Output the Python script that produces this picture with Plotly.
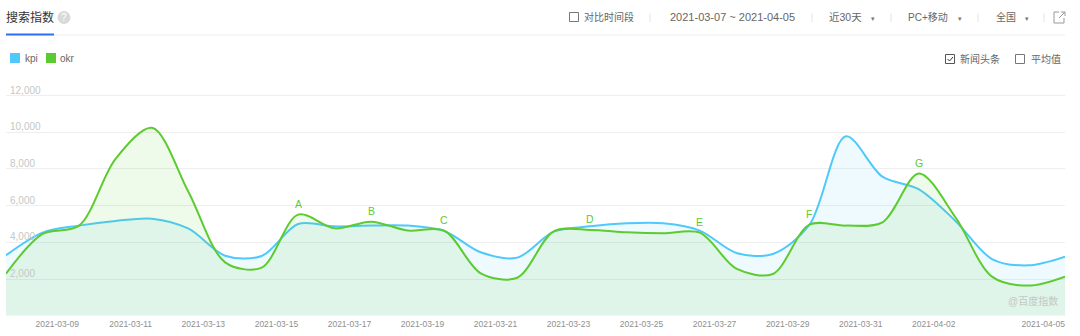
import plotly.graph_objects as go
import pandas as pd

dates = [d.strftime("%Y-%m-%d") for d in pd.date_range("2021-03-07", "2021-04-05")]
kpi = [3290, 4530, 4910, 5165, 5290, 4745, 3270, 3255, 5000, 4870,
       4910, 4910, 4620, 3455, 3165, 4580, 4870, 5035, 5035, 4640,
       3420, 3365, 4945, 9780, 7580, 6890, 5165, 3090, 2745, 3220]
okr = [2290, 4455, 4910, 8550, 10240, 6730, 2910, 2620, 5510, 4760,
       5125, 4640, 4640, 2310, 2070, 4600, 4675, 4545, 4490, 4525,
       2565, 2275, 4965, 4910, 5090, 7750, 5365, 2130, 1640, 2130]
y_ticks = [2000, 4000, 6000, 8000, 10000, 12000]
x_ticks = ["2021-03-09", "2021-03-11", "2021-03-13", "2021-03-15", "2021-03-17",
           "2021-03-19", "2021-03-21", "2021-03-23", "2021-03-25", "2021-03-27",
           "2021-03-29", "2021-03-31", "2021-04-02", "2021-04-05"]
news_labels = ["A", "B", "C", "D", "E", "F", "G"]
news_dates = ["2021-03-15", "2021-03-17", "2021-03-19", "2021-03-23", "2021-03-26", "2021-03-29", "2021-04-01"]

W, H = 1080, 336
BLUE, GREEN = "#4fc9fb", "#5ccb30"
FONT = "Liberation Sans, Noto Sans CJK SC, sans-serif"
X = lambda p: p / W
Y = lambda p: 1 - p / H

fig = go.Figure()
fig.add_trace(go.Scatter(x=dates, y=kpi, name="kpi", mode="lines", fill="tozeroy",
                         fillcolor="rgba(79,201,251,0.09)",
                         line=dict(color=BLUE, width=2, shape="spline", smoothing=0.9)))
fig.add_trace(go.Scatter(x=dates, y=okr, name="okr", mode="lines", fill="tozeroy",
                         fillcolor="rgba(92,203,48,0.1)",
                         line=dict(color=GREEN, width=2, shape="spline", smoothing=0.9)))

shapes, ann = [], []


def text(t, x, y, size=10, color="#666666", anchor="left"):
    dx = {"left": -2, "right": 2, "center": 0}[anchor]
    ann.append(dict(text=t, x=X(x + dx), y=Y(y), xref="paper", yref="paper", showarrow=False,
                    xanchor=anchor, yanchor="middle", font=dict(size=size, color=color, family=FONT)))


def rect(x0, y0, x1, y1, fill="rgba(0,0,0,0)", line="#777777", w=1):
    shapes.append(dict(type="rect", xref="paper", yref="paper", x0=X(x0), x1=X(x1), y0=Y(y0), y1=Y(y1),
                       fillcolor=fill, line=dict(color=line, width=w)))


def hline(x0, x1, y, color, w=1):
    shapes.append(dict(type="line", xref="paper", yref="paper", x0=X(x0), x1=X(x1), y0=Y(y), y1=Y(y),
                       line=dict(color=color, width=w)))


def vline(x, y0, y1, color="#e4e4e4"):
    shapes.append(dict(type="line", xref="paper", yref="paper", x0=X(x), x1=X(x), y0=Y(y0), y1=Y(y1),
                       line=dict(color=color, width=1)))


# header
text("搜索指数", 6, 17, 12, "#333333")
hline(6, 1065, 35, "#eeeeee")
hline(6, 54, 34.5, "#2f6ff0", 2)
shapes.append(dict(type="circle", xref="paper", yref="paper", x0=X(57.5), x1=X(70.5), y0=Y(11), y1=Y(24),
                   fillcolor="#d9d9d9", line=dict(width=0)))
text("?", 64, 17.5, 10, "#ffffff", "center")
rect(569.5, 12.5, 578.5, 21.5)
text("对比时间段", 584, 17, 10)
vline(650, 13, 22)
text("2021-03-07 ~ 2021-04-05", 732, 17, 11, "#666666", "center")
vline(812, 13, 22)
text("近30天", 829, 17, 10.5)
text("▾", 873, 18, 7, "#777777", "center")
vline(891, 13, 22)
text("PC+移动", 908, 17, 10)
text("▾", 960, 18, 7, "#777777", "center")
vline(978, 13, 22)
text("全国", 996, 17, 10)
text("▾", 1027, 18, 7, "#777777", "center")
vline(1044, 13, 22)
shapes.append(dict(type="path", xref="paper", yref="paper",
                   path=f"M {X(1059)} {Y(12)} L {X(1054)} {Y(12)} L {X(1054)} {Y(23)} L {X(1064)} {Y(23)} L {X(1064)} {Y(18)} "
                        f"M {X(1059)} {Y(18)} L {X(1065)} {Y(12)} M {X(1061)} {Y(12)} L {X(1065)} {Y(12)} L {X(1065)} {Y(16)}",
                   line=dict(color="#999999", width=1)))

# legend
rect(10, 53, 20, 63, BLUE, BLUE, 0)
text("kpi", 25, 58, 10)
rect(46, 53, 56, 63, GREEN, GREEN, 0)
text("okr", 60, 58, 10)

# toggles
rect(945.5, 54.5, 954.5, 63.5, line="#555555")
shapes.append(dict(type="path", xref="paper", yref="paper",
                   path=f"M {X(947.5)} {Y(59)} L {X(949.5)} {Y(61)} L {X(953)} {Y(57)}",
                   line=dict(color="#333333", width=1)))
text("新闻头条", 960, 59, 10)
rect(1015.5, 54.5, 1024.5, 63.5)
text("平均值", 1031, 59, 10)

# y tick labels, sitting just above their grid lines
for v in y_ticks:
    ann.append(dict(text=f"{v:,}", x=X(8), y=v, xref="paper", yref="y", showarrow=False,
                    xanchor="left", yanchor="middle", yshift=5.5,
                    font=dict(size=10, color="#c4c8c6", family=FONT)))

# event letters
for lab, d in zip(news_labels, news_dates):
    v = okr[dates.index(d)]
    ann.append(dict(text=lab, x=d, y=v, xref="x", yref="y", showarrow=False, yanchor="bottom", yshift=3,
                    font=dict(size=10.5, color=GREEN, family=FONT)))

text("@百度指数", 1058, 301, 10, "#c2c8c4", "right")

fig.update_layout(
    width=W, height=H, margin=dict(l=0, r=0, t=0, b=0),
    paper_bgcolor="white", plot_bgcolor="white", showlegend=False,
    shapes=shapes, annotations=ann, font=dict(family=FONT),
    xaxis=dict(domain=[X(6), X(1065)], range=[dates[0], dates[-1]], type="date",
               tickvals=x_ticks, ticktext=x_ticks, showgrid=False, zeroline=False, showline=False,
               ticks="", ticklabelposition="outside left", ticklabelstandoff=2,
               tickfont=dict(size=8.5, color="#8f8f8f"), automargin=False),
    yaxis=dict(domain=[Y(315.7), Y(93.7)], range=[0, 12100], tickvals=y_ticks,
               gridcolor="#eeeeee", gridwidth=1, showticklabels=False,
               zeroline=False, showline=False, ticks="", automargin=False),
)
fig.write_html("out.html", config={"displayModeBar": False},
               post_script="document.body.style.margin='0';document.body.style.overflow='hidden';")
